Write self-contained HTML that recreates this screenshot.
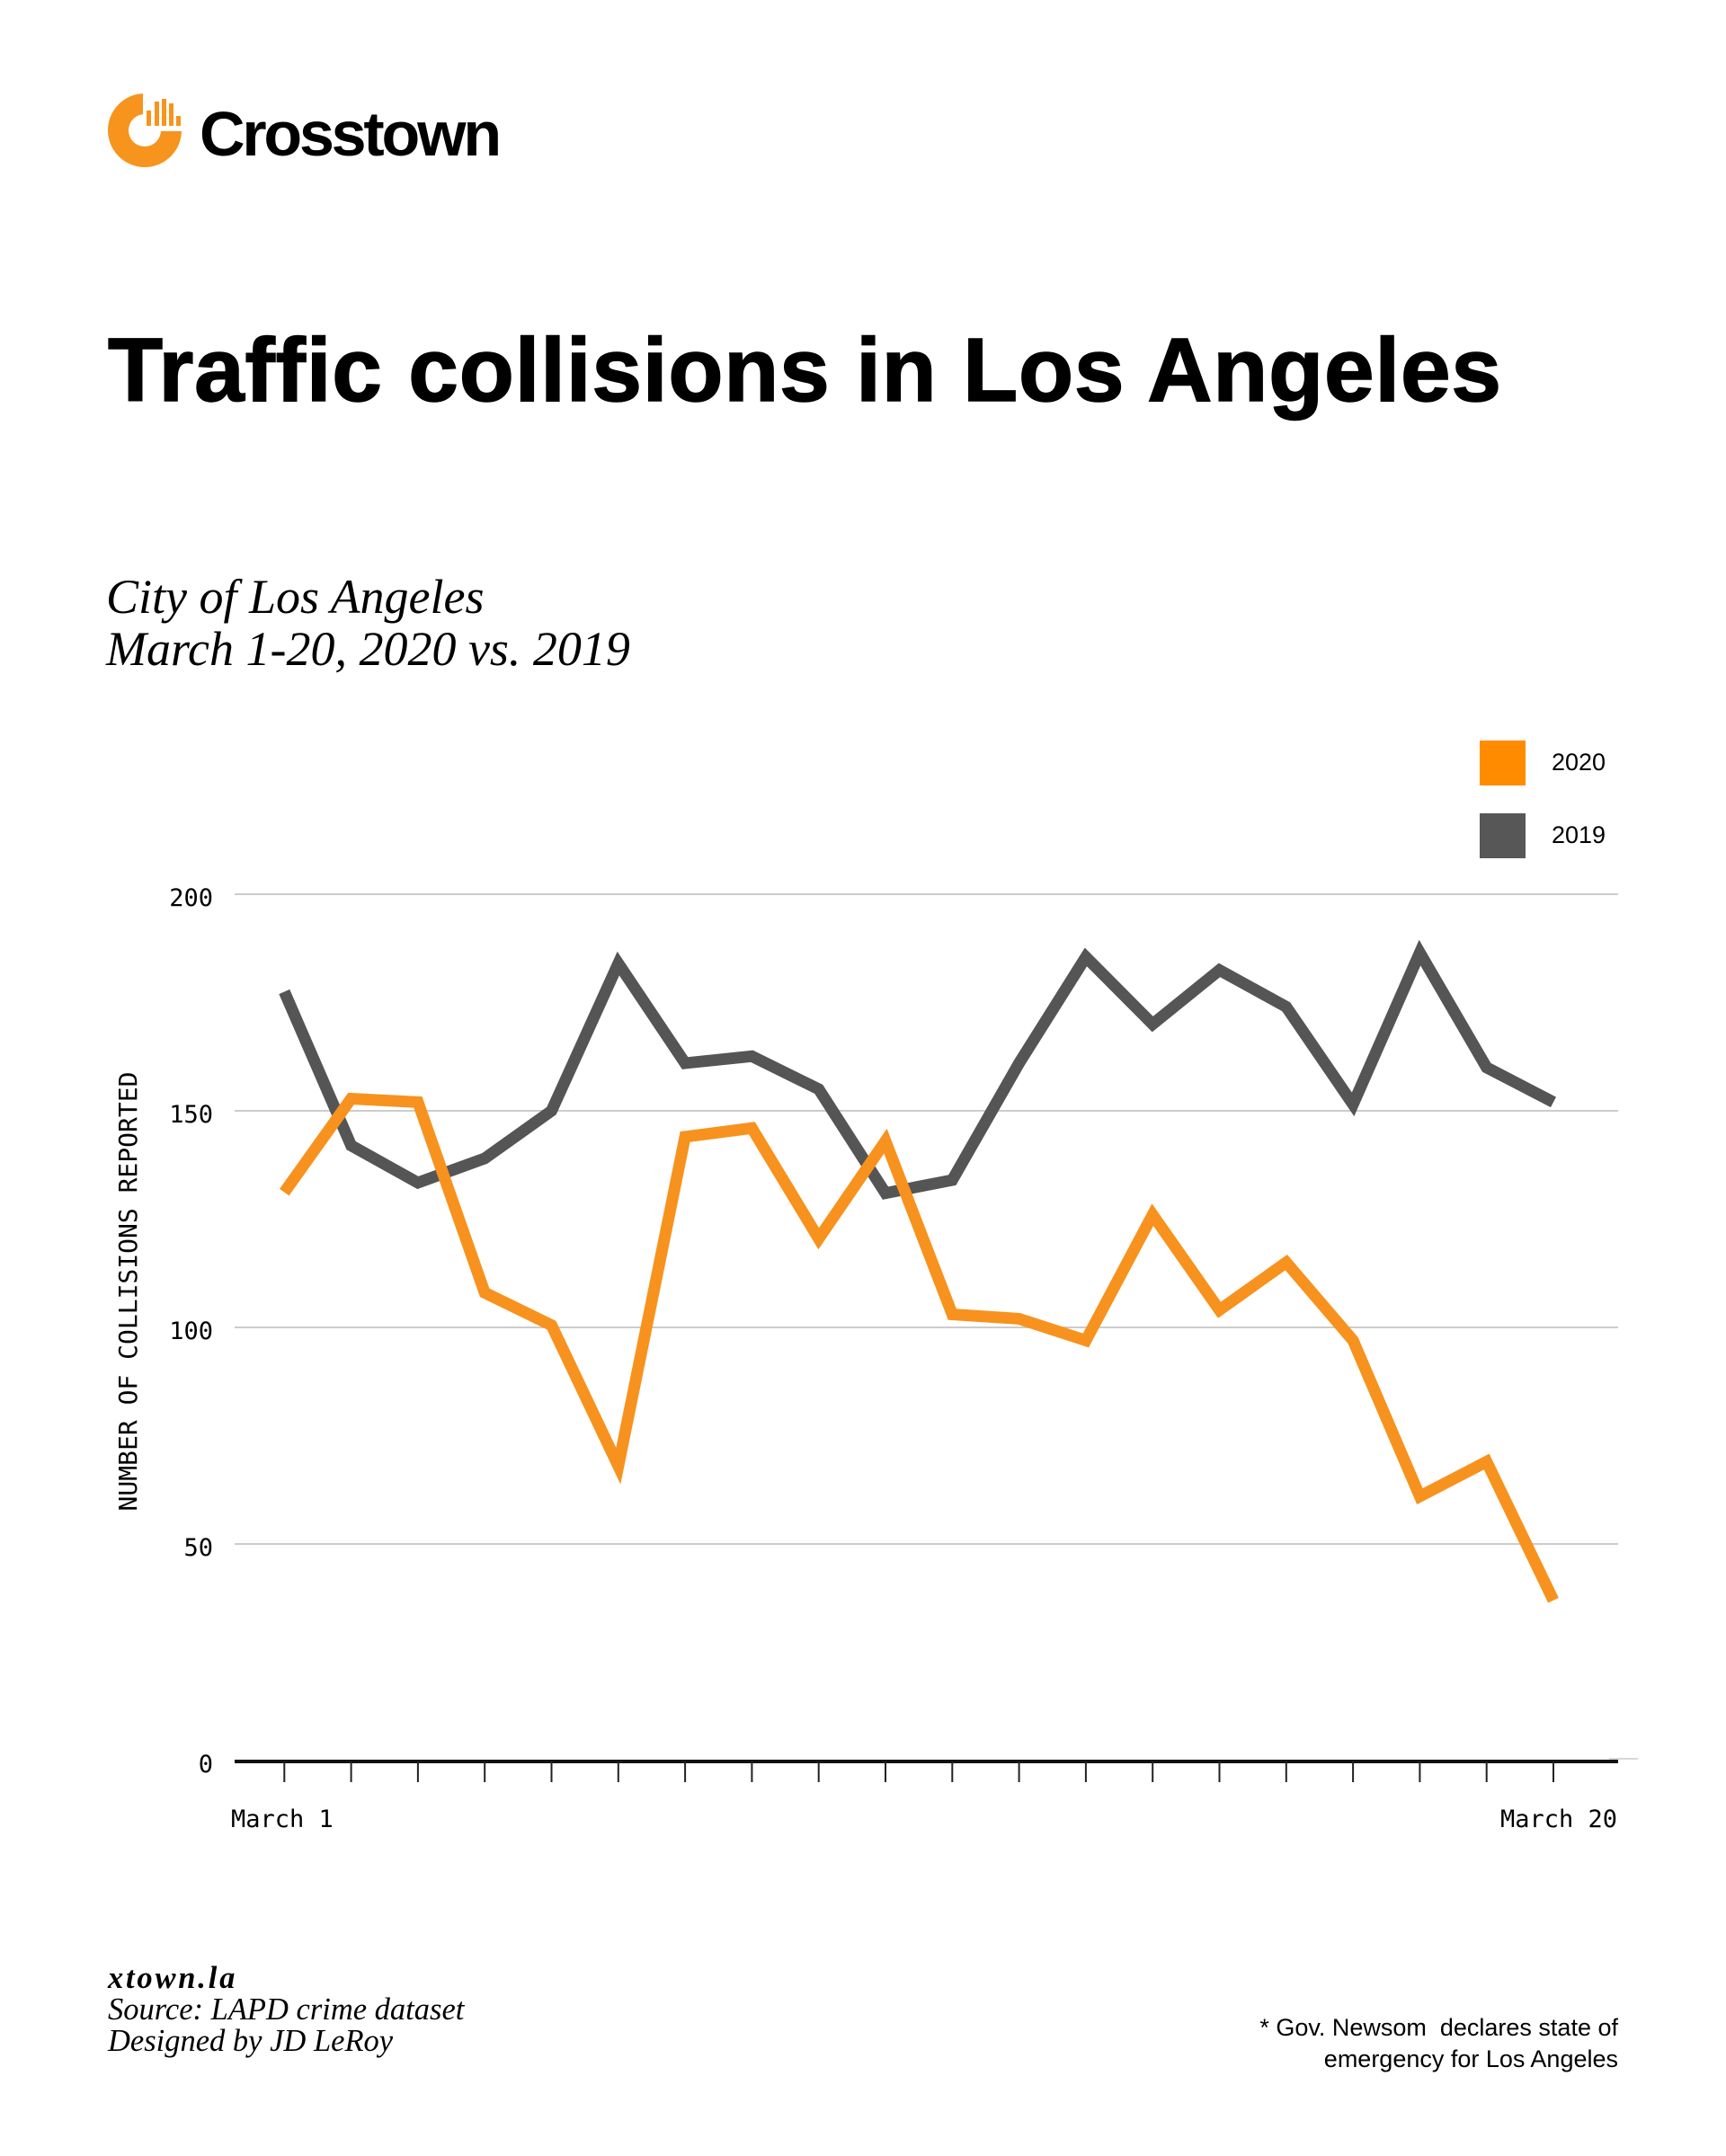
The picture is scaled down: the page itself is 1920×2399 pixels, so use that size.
<!DOCTYPE html>
<html>
<head>
<meta charset="utf-8">
<style>
  html, body { margin: 0; padding: 0; background: #ffffff; }
  body { width: 1920px; height: 2399px; overflow: hidden; }
  svg { display: block; }
</style>
</head>
<body>
<svg width="1920" height="2399" viewBox="0 0 1920 2399" xmlns="http://www.w3.org/2000/svg">
  <rect x="0" y="0" width="1920" height="2399" fill="#ffffff"/>

  <!-- Logo -->
  <g>
    <circle cx="161" cy="145" r="41" fill="#F7941D"/>
    <circle cx="161" cy="145" r="18" fill="#ffffff"/>
    <rect x="159" y="100" width="50" height="46" fill="#ffffff"/>
    <rect x="163" y="123" width="5" height="17" fill="#F7941D"/>
    <rect x="172" y="113" width="5" height="27" fill="#F7941D"/>
    <rect x="180" y="110" width="5" height="30" fill="#F7941D"/>
    <rect x="188" y="115" width="5" height="25" fill="#F7941D"/>
    <rect x="196" y="129" width="5" height="11" fill="#F7941D"/>
  </g>
  <text x="222" y="173" font-family="'Liberation Sans', sans-serif" font-weight="bold" font-size="70" letter-spacing="-3.2" fill="#000">Crosstown</text>

  <!-- Title -->
  <text x="120" y="446" font-family="'Liberation Sans', sans-serif" font-weight="bold" font-size="100" letter-spacing="0.8" fill="#000" stroke="#000" stroke-width="1.5">Traffic collisions in Los Angeles</text>

  <!-- Subtitle -->
  <text x="118" y="682" font-family="'Liberation Serif', serif" font-style="italic" font-size="54" fill="#000">City of Los Angeles</text>
  <text x="118" y="740" font-family="'Liberation Serif', serif" font-style="italic" font-size="54" fill="#000">March 1-20, 2020 vs. 2019</text>

  <!-- Legend -->
  <rect x="1646" y="824" width="51" height="50" fill="#FF8C00"/>
  <rect x="1646" y="905" width="51" height="50" fill="#575757"/>
  <text x="1726" y="857" font-family="'Liberation Sans', sans-serif" font-size="27" fill="#000">2020</text>
  <text x="1726" y="938" font-family="'Liberation Sans', sans-serif" font-size="27" fill="#000">2019</text>

  <!-- Gridlines -->
  <g stroke="#cccccc" stroke-width="2">
    <line x1="261" y1="995" x2="1800" y2="995"/>
    <line x1="261" y1="1236" x2="1800" y2="1236"/>
    <line x1="261" y1="1477" x2="1800" y2="1477"/>
    <line x1="261" y1="1718" x2="1800" y2="1718"/>
    <line x1="1790" y1="1957" x2="1822" y2="1957" stroke-width="1.5"/>
  </g>

  <!-- Y labels -->
  <g font-family="'DejaVu Sans Mono', 'Liberation Mono', monospace" font-size="27" fill="#000" text-anchor="end">
    <text x="237" y="1008">200</text>
    <text x="237" y="1249">150</text>
    <text x="237" y="1490">100</text>
    <text x="237" y="1731">50</text>
    <text x="237" y="1972">0</text>
  </g>

  <!-- Y axis title -->
  <text transform="translate(152,1437) rotate(-90)" text-anchor="middle" font-family="'DejaVu Sans Mono', 'Liberation Mono', monospace" font-size="28" fill="#000">NUMBER OF COLLISIONS REPORTED</text>

  <!-- Series 2019 -->
  <polyline fill="none" stroke="#555555" stroke-width="13" stroke-linejoin="miter" stroke-miterlimit="10" stroke-linecap="butt"
    points="316.3,1103.5 390.6,1274.6 464.9,1316.0 539.2,1289.0 613.5,1236.0 687.8,1072.1 762.1,1183.0 836.4,1175.3 910.7,1211.9 985.0,1327.6 1059.3,1313.1 1133.6,1183.0 1207.9,1064.9 1282.2,1139.6 1356.5,1079.4 1430.8,1120.3 1505.1,1228.8 1579.4,1060.1 1653.7,1187.8 1728.0,1226.4"/>

  <!-- Series 2020 -->
  <polyline fill="none" stroke="#F7921E" stroke-width="13" stroke-linejoin="miter" stroke-miterlimit="10" stroke-linecap="butt"
    points="316.3,1326.6 390.6,1222.5 464.9,1226.4 539.2,1438.4 613.5,1474.6 687.8,1631.2 762.1,1264.9 836.4,1255.3 910.7,1378.2 985.0,1269.7 1059.3,1462.5 1133.6,1467.4 1207.9,1491.5 1282.2,1351.7 1356.5,1457.7 1430.8,1404.7 1505.1,1491.5 1579.4,1665.0 1653.7,1626.4 1728.0,1780.7"/>

  <!-- X axis -->
  <line x1="261" y1="1960" x2="1800" y2="1960" stroke="#111" stroke-width="4"/>
  <g stroke="#222" stroke-width="2">
    <line x1="316.3" y1="1960" x2="316.3" y2="1983"/>
    <line x1="390.6" y1="1960" x2="390.6" y2="1983"/>
    <line x1="464.9" y1="1960" x2="464.9" y2="1983"/>
    <line x1="539.2" y1="1960" x2="539.2" y2="1983"/>
    <line x1="613.5" y1="1960" x2="613.5" y2="1983"/>
    <line x1="687.8" y1="1960" x2="687.8" y2="1983"/>
    <line x1="762.1" y1="1960" x2="762.1" y2="1983"/>
    <line x1="836.4" y1="1960" x2="836.4" y2="1983"/>
    <line x1="910.7" y1="1960" x2="910.7" y2="1983"/>
    <line x1="985.0" y1="1960" x2="985.0" y2="1983"/>
    <line x1="1059.3" y1="1960" x2="1059.3" y2="1983"/>
    <line x1="1133.6" y1="1960" x2="1133.6" y2="1983"/>
    <line x1="1207.9" y1="1960" x2="1207.9" y2="1983"/>
    <line x1="1282.2" y1="1960" x2="1282.2" y2="1983"/>
    <line x1="1356.5" y1="1960" x2="1356.5" y2="1983"/>
    <line x1="1430.8" y1="1960" x2="1430.8" y2="1983"/>
    <line x1="1505.1" y1="1960" x2="1505.1" y2="1983"/>
    <line x1="1579.4" y1="1960" x2="1579.4" y2="1983"/>
    <line x1="1653.7" y1="1960" x2="1653.7" y2="1983"/>
    <line x1="1728.0" y1="1960" x2="1728.0" y2="1983"/>
  </g>

  <!-- X labels -->
  <text x="257" y="2033" font-family="'DejaVu Sans Mono', 'Liberation Mono', monospace" font-size="27" fill="#000">March 1</text>
  <text x="1799" y="2033" text-anchor="end" font-family="'DejaVu Sans Mono', 'Liberation Mono', monospace" font-size="27" fill="#000">March 20</text>

  <!-- Footer left -->
  <text x="120" y="2212" font-family="'Liberation Serif', serif" font-style="italic" font-weight="bold" font-size="34.5" letter-spacing="2.8" fill="#000">xtown.la</text>
  <text x="120" y="2247" font-family="'Liberation Serif', serif" font-style="italic" font-size="34.5" fill="#000">Source: LAPD crime dataset</text>
  <text x="120" y="2282" font-family="'Liberation Serif', serif" font-style="italic" font-size="34.5" fill="#000">Designed by JD LeRoy</text>

  <!-- Footer right -->
  <text x="1800" y="2265" text-anchor="end" font-family="'Liberation Sans', sans-serif" font-size="27" fill="#000" xml:space="preserve">* Gov. Newsom  declares state of</text>
  <text x="1800" y="2300" text-anchor="end" font-family="'Liberation Sans', sans-serif" font-size="27" fill="#000">emergency for Los Angeles</text>
</svg>
</body>
</html>
